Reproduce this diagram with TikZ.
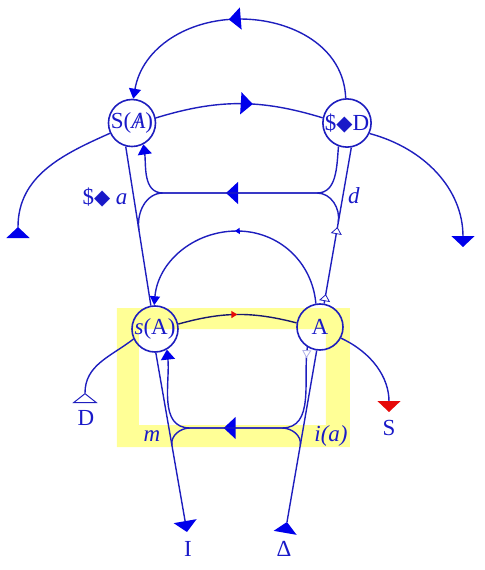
\documentclass[tikz,border=0pt]{standalone}
\usepackage{fontspec}
\setmainfont{Liberation Serif}
\newfontfamily\diafont{DejaVu Sans}
\usetikzlibrary{arrows.meta,decorations.markings,calc}

\definecolor{lineblue}{RGB}{30,30,190}
\definecolor{fillblue}{RGB}{0,0,235}
\definecolor{textblue}{RGB}{25,25,200}
\definecolor{darkline}{RGB}{25,25,110}
\definecolor{bandyellow}{RGB}{255,255,150}
\definecolor{tipred}{RGB}{230,10,10}

\newcommand{\dia}{{\diafont\fontsize{10.5}{12}\selectfont ◆}}
\newcommand{\barA}{\ooalign{\textit{A}\cr\hidewidth/\hidewidth\cr}}

\tikzset{
    wire/.style={draw=lineblue, line width=0.7pt},
    vtx/.style={circle, draw=lineblue, line width=0.8pt, minimum size=23pt, inner sep=0pt, text=textblue},
    lbl/.style={text=textblue, anchor=base},
    bigarrow/.style={postaction={decorate, decoration={markings, mark=at position #1 with {\arrow{Triangle[length=6pt,width=11pt,color=fillblue]}}}}},
    smallarrow/.style={postaction={decorate, decoration={markings, mark=at position #1 with {\arrow{Triangle[length=2.5pt,width=3pt,color=fillblue]}}}}},
    redarrow/.style={postaction={decorate, decoration={markings, mark=at position #1 with {\arrow{Triangle[length=3pt,width=3.5pt,color=tipred]}}}}},
    hollow/.style={postaction={decorate, decoration={markings, mark=at position #1 with {\arrow{Triangle[length=3.5pt,width=5.5pt,color=lineblue,fill=white,line width=0.4pt]}}}}},
    faint/.style={postaction={decorate, decoration={markings, mark=at position #1 with {\arrow{Triangle[length=4pt,width=4.5pt,color=lineblue!35,fill=white,line width=0.4pt]}}}}},
    starttri/.style={postaction={decorate, decoration={markings, mark=at position 0 with {\arrow{Triangle[length=5.5pt,width=11.5pt,color=fillblue]}}}}},
    opentri/.style={postaction={decorate, decoration={markings, mark=at position 0 with {\arrow{Triangle[length=5pt,width=12.5pt,color=lineblue,fill=white,line width=0.5pt]}}}}},
    endtri/.style={-{Triangle[length=5.5pt,width=11.5pt,color=fillblue]}},
    into/.style={-{Triangle[length=5pt,width=7pt,color=fillblue]}},
}

\begin{document}
\begin{tikzpicture}[x=0.5pt, y=0.5pt, font=\fontsize{11.5}{13}\selectfont]
    \useasboundingbox (0,0) rectangle (485,570);
    % yellow frame
    \fill[bandyellow, even odd rule] (117,123) rectangle (350,262) (139,145) rectangle (326,241);

    \node[vtx] (SA) at (132,447) {S(\barA)};
    \node[vtx] (SD) at (347,447) {\$\dia D};
    \node[vtx] (sA) at (155,241) {\textit{s}(A)};
    \node[vtx] (A)  at (320,243) {A};

    \coordinate (jl) at (18,343);
    \coordinate (jr) at (463,323);
    \coordinate (Itip) at (187,38);
    \coordinate (Dtip) at (287,48);
    \coordinate (Dend) at (85,177);
    \coordinate (Send) at (389,158);
    \coordinate (top) at (240,551);
    \coordinate (mid) at (237,339);
    \coordinate (ul) at (163,377);
    \coordinate (ur) at (317,377);
    \coordinate (bl) at (190,142);
    \coordinate (br) at (282,142);

    % upper level
    \draw[wire, bigarrow=0.54, -{Triangle[length=5pt,width=6pt,color=fillblue]}] (SD.93) to[out=92,in=0] (top) to[out=180,in=80] (SA.87);
    \draw[wire, bigarrow=0.58] (SA.12) to[bend left=17] (SD.168);
    \draw[wire, starttri] (jl) to[out=90,in=204] (SA.205);
    \draw[wire, endtri] (SD.335) to[out=-15,in=90] (jr);

    \draw[wire] (SA.255) -- (sA.100);
    \draw[wire, hollow=0.06, hollow=0.49] (A.80) -- (SD.280);
    \coordinate (mUL) at ($(SA.255)!0.526!(sA.100)$);
    \coordinate (mUR) at ($(SD.280)!0.481!(A.80)$);
    \draw[wire, bigarrow=0.55, into] (SD.250) to[out=265,in=0] (ur) -- (ul) to[out=180,in=278] (SA.298);
    \draw[wire] (mUR) to[out=80.35,in=0] (ur) -- (ul) to[out=180,in=98.8] (mUL);

    \draw[wire, smallarrow=0.5, -{Triangle[length=4.5pt,width=5pt,color=fillblue]}] (A.100) to[out=95,in=0] (mid) to[out=180,in=85] (sA.92);

    % lower level
    \draw[draw=darkline, line width=0.7pt, redarrow=0.5] (sA.12) to[bend left=15] (A.170);
    \draw[wire, opentri] (Dend) to[out=90,in=218] (sA.205);
    \draw[wire, -{Triangle[length=5.5pt,width=11.5pt,color=tipred]}] (A.332) to[out=-25,in=90] (Send);

    \draw[wire, endtri] (sA.272) -- (Itip);
    \draw[wire, starttri] (Dtip) -- (A.262);
    \coordinate (mBL) at ($(sA.272)!0.517!(Itip)$);
    \coordinate (mBR) at ($(Dtip)!0.447!(A.262)$);
    \draw[wire, faint=0.04, bigarrow=0.55, into] (A.238) to[out=262,in=0] (br) -- (bl) to[out=180,in=276] (sA.300);
    \draw[wire] (mBR) to[out=80.2,in=0] (br) -- (bl) to[out=180,in=99.7] (mBL);

    % labels
    \node[lbl] (lsa) at (105,366) {\$\dia\ \textit{a}};
    \node[lbl] (ld) at (354,367) {\textit{d}};
    \node[lbl] (lm) at (152,128) {\textit{m}};
    \node[lbl] (lia) at (331,128) {\textit{i(a)}};
    \node[lbl] (lI) at (188,13) {I};
    \node[lbl] (lDelta) at (284,13) {Δ};
    \node[lbl] (lD) at (86,145) {D};
    \node[lbl] (lS) at (389,134) {S};
\end{tikzpicture}
\end{document}
